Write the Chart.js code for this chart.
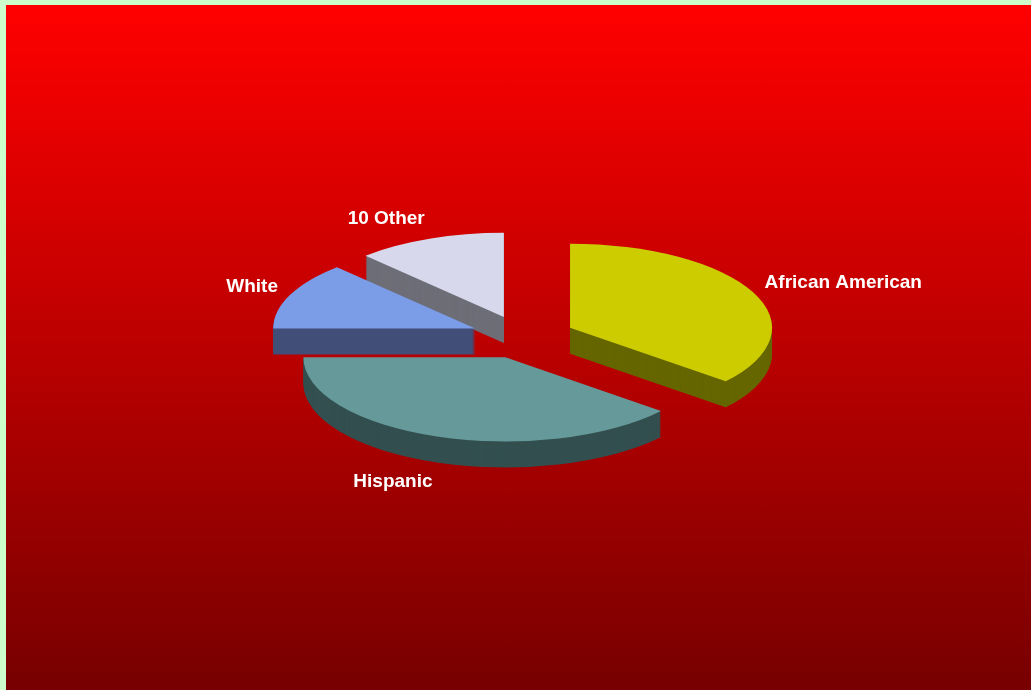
<!DOCTYPE html>
<html>
<head>
<meta charset="utf-8">
<script src="https://cdn.jsdelivr.net/npm/chart.js@4/dist/chart.umd.min.js"></script>
<style>
    html, body { margin: 0; padding: 0; background: #ccffcc; }
    #wrap {
        position: absolute; left: 6px; top: 5px;
        width: 1025px; height: 685px;
        background: linear-gradient(to bottom, #ff0000, #770000);
    }
    canvas { display: block; }
</style>
</head>
<body>
<div id="wrap"><canvas id="pie" width="1025" height="685"></canvas></div>
<script>
/* =====================================================
   DATA
===================================================== */

const categories = ["African American", "Hispanic", "White", "10 Other"];
const shares = [36, 39, 13, 12];

const topColors  = ["#cccc00", "#669999", "#7b9ce6", "#d8d8ec"];
const sideColors = ["#666600", "#334f4f", "#404f78", "#6e6e78"];


/* =====================================================
   3D LOOK
===================================================== */

const TILT = 0.416;     // vertical squash of the disc
const DEPTH = 26;       // thickness in px
const EXPLODE = 52;     // slice pull-out in px

// shift every slice outwards along its middle angle
function explode(arc) {
    if (arc._exploded) return;
    const base = arc.draw;
    arc.draw = function(c) {
        const m = (this.startAngle + this.endAngle) / 2;
        c.save();
        c.translate(Math.cos(m) * EXPLODE, Math.sin(m) * EXPLODE);
        base.call(this, c);
        c.restore();
    };
    arc._exploded = true;
}

const pie3d = {
    id: "pie3d",

    beforeDatasetsDraw(chart) {
        const ctx = chart.ctx;
        const arcs = chart.getDatasetMeta(0).data;
        const cx = arcs[0].x, cy = arcs[0].y;

        arcs.forEach(explode);

        ctx.save();
        ctx.translate(cx, cy);
        ctx.scale(1, TILT);
        ctx.translate(-cx, -cy);

        // side walls: the same slice stacked downwards in a darker shade
        for (let k = DEPTH; k >= 1; k--) {
            arcs.forEach((arc, i) => {
                const ghost = Object.create(arc);
                ghost.options = Object.assign({}, arc.options, {
                    backgroundColor: sideColors[i]
                });
                ctx.save();
                ctx.translate(0, k / TILT);
                ghost.draw(ctx);
                ctx.restore();
            });
        }
    },

    afterDatasetsDraw(chart) {
        const ctx = chart.ctx;
        ctx.restore();

        const arcs = chart.getDatasetMeta(0).data;
        const cx = arcs[0].x, cy = arcs[0].y;

        ctx.save();
        ctx.font = "bold 19px 'Liberation Sans', Arial, sans-serif";
        ctx.fillStyle = "#ffffff";
        ctx.textBaseline = "middle";

        arcs.forEach((arc, i) => {
            const m = (arc.startAngle + arc.endAngle) / 2;
            const cos = Math.cos(m), sin = Math.sin(m);
            const r = arc.outerRadius + EXPLODE;
            const ex = cx + cos * r;
            const ey = cy + sin * r * TILT + (sin > 0 ? DEPTH : 0);

            ctx.textAlign = cos > 0 ? "left" : "right";
            ctx.fillText(categories[i], ex + cos * 13, ey + sin * 21);
        });
        ctx.restore();
    }
};


/* =====================================================
   CHART
===================================================== */

new Chart(document.getElementById("pie"), {
    type: "pie",
    data: {
        labels: categories,
        datasets: [{
            data: shares,
            backgroundColor: topColors,
            borderWidth: 0,
            radius: 202,
            clip: false
        }]
    },
    options: {
        responsive: false,
        animation: false,
        events: [],
        layout: { padding: { left: 9, right: 0, top: 0, bottom: 21 } },
        plugins: {
            legend: { display: false },
            tooltip: { enabled: false }
        }
    },
    plugins: [pie3d]
});
</script>
</body>
</html>
